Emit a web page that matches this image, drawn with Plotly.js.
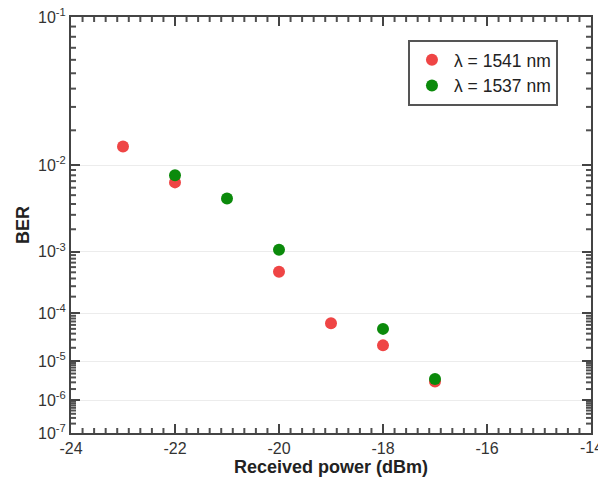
<!DOCTYPE html>
<html>
<head>
<meta charset="utf-8">
<script src="https://cdn.plot.ly/plotly-3.0.1.min.js"></script>
<style>html,body{margin:0;padding:0;background:#fff;}#chart{width:598px;height:485px;}</style>
</head>
<body>
<div id="chart"></div>
<script>
// Data (BER values)
const power1541 = [-23, -22, -20, -19, -18, -17];
const ber1541   = [1.47e-2, 6.8e-3, 5.1e-4, 6.5e-5, 2.26e-5, 3.15e-6];
const power1537 = [-22, -21, -20, -18, -17];
const ber1537   = [8.0e-3, 4.6e-3, 1.07e-3, 5.0e-5, 3.66e-6];
const seriesNames = ['\u03bb = 1541 nm', '\u03bb = 1537 nm'];
const decadeExps = [1, 2, 3, 4, 5, 6, 7];
const xTicks = [-24, -22, -20, -18, -16, -14];

// BER axis scale: -log10(-log10(BER))
function tf(b) { return -Math.log10(-Math.log10(b)); }

const yTickVals = decadeExps.map(k => tf(Math.pow(10, -k)));
const yTickText = decadeExps.map(k => '10<sup>-' + k + '</sup>');
const yMinorVals = [];
for (let k = 2; k <= 7; k++) {
  for (let m = 2; m <= 9; m++) yMinorVals.push(tf(m * Math.pow(10, -k)));
}
const xMinorVals = [];
for (let i = 1; i < 45; i++) if (i % 9 !== 0) xMinorVals.push(-24 + i * 2 / 9);

const font = 'Arial, "Liberation Sans", sans-serif';
const xRange = [-24, -14];
const yRange = [tf(1e-7), tf(1e-1)];

const W = 598, H = 485, ML = 71, MR = 7, MT = 17, MB = 52;
const PW = W - ML - MR, PH = H - MT - MB;
const xPerPx = (xRange[1] - xRange[0]) / PW;
const yPerPx = (yRange[1] - yRange[0]) / PH;

// minor tick marks drawn as a line trace on the same axes
function tickTrace(xv, yv, lenPx) {
  const xs = [], ys = [];
  const dy = lenPx * yPerPx, dx = lenPx * xPerPx;
  xv.forEach(v => {
    xs.push(v, v, null, v, v, null);
    ys.push(yRange[0], yRange[0] + dy, null, yRange[1], yRange[1] - dy, null);
  });
  yv.forEach(v => {
    xs.push(xRange[0], xRange[0] + dx, null, xRange[1], xRange[1] - dx, null);
    ys.push(v, v, null, v, v, null);
  });
  return {x: xs, y: ys, type: 'scatter', mode: 'lines', showlegend: false,
          hoverinfo: 'skip', line: {color: 'rgb(80,80,80)', width: 2}};
}

const traces = [
  {x: power1541, y: ber1541.map(tf), type: 'scatter', mode: 'markers',
   name: seriesNames[0], marker: {color: '#ef4545', size: 12}},
  {x: power1537, y: ber1537.map(tf), type: 'scatter', mode: 'markers',
   name: seriesNames[1], marker: {color: '#0b8a0b', size: 12}},
  tickTrace(xMinorVals, yMinorVals, 5)
];

const layout = {
  width: W, height: H,
  margin: {l: ML, r: MR, t: MT, b: MB, pad: 0},
  font: {family: font, color: '#333', size: 16},
  legend: {
    x: 0.648, y: 0.945, xanchor: 'left', yanchor: 'top',
    bgcolor: '#fff', bordercolor: '#555', borderwidth: 2,
    font: {family: font, size: 17.5, color: '#222'},
    tracegroupgap: 0, itemwidth: 34
  },
  annotations: [{text: String(xTicks[xTicks.length - 1]), x: xTicks[xTicks.length - 1], xref: 'x',
    y: 0, yref: 'paper', yanchor: 'top', xanchor: 'center', yshift: -4, showarrow: false,
    font: {family: font, size: 16, color: '#333'}}],
  xaxis: {
    range: xRange,
    tickmode: 'array', tickvals: xTicks, ticktext: xTicks.map(String),
    ticks: 'inside', ticklen: 9, tickwidth: 2, tickcolor: 'rgb(68,68,68)',
    showline: true, linecolor: '#444', linewidth: 2, mirror: 'ticks',
    showgrid: false, zeroline: false,
    tickfont: {family: font, size: 16, color: '#333'},
    title: {text: 'Received power (dBm)', font: {family: font, size: 18, color: '#222', weight: 'bold'}, standoff: 4}
  },
  yaxis: {
    range: yRange,
    tickmode: 'array', tickvals: yTickVals, ticktext: yTickText,
    ticks: 'inside', ticklen: 9, tickwidth: 2, tickcolor: 'rgb(68,68,68)',
    showline: true, linecolor: '#444', linewidth: 2, mirror: 'ticks',
    showgrid: true, gridcolor: '#ececec', gridwidth: 1,
    zeroline: false,
    tickfont: {family: font, size: 16, color: '#333'},
    title: {text: 'BER', font: {family: font, size: 18, color: '#222', weight: 'bold'}, standoff: 4}
  }
};

Plotly.newPlot('chart', traces, layout, {displayModeBar: false});
</script>
</body>
</html>
